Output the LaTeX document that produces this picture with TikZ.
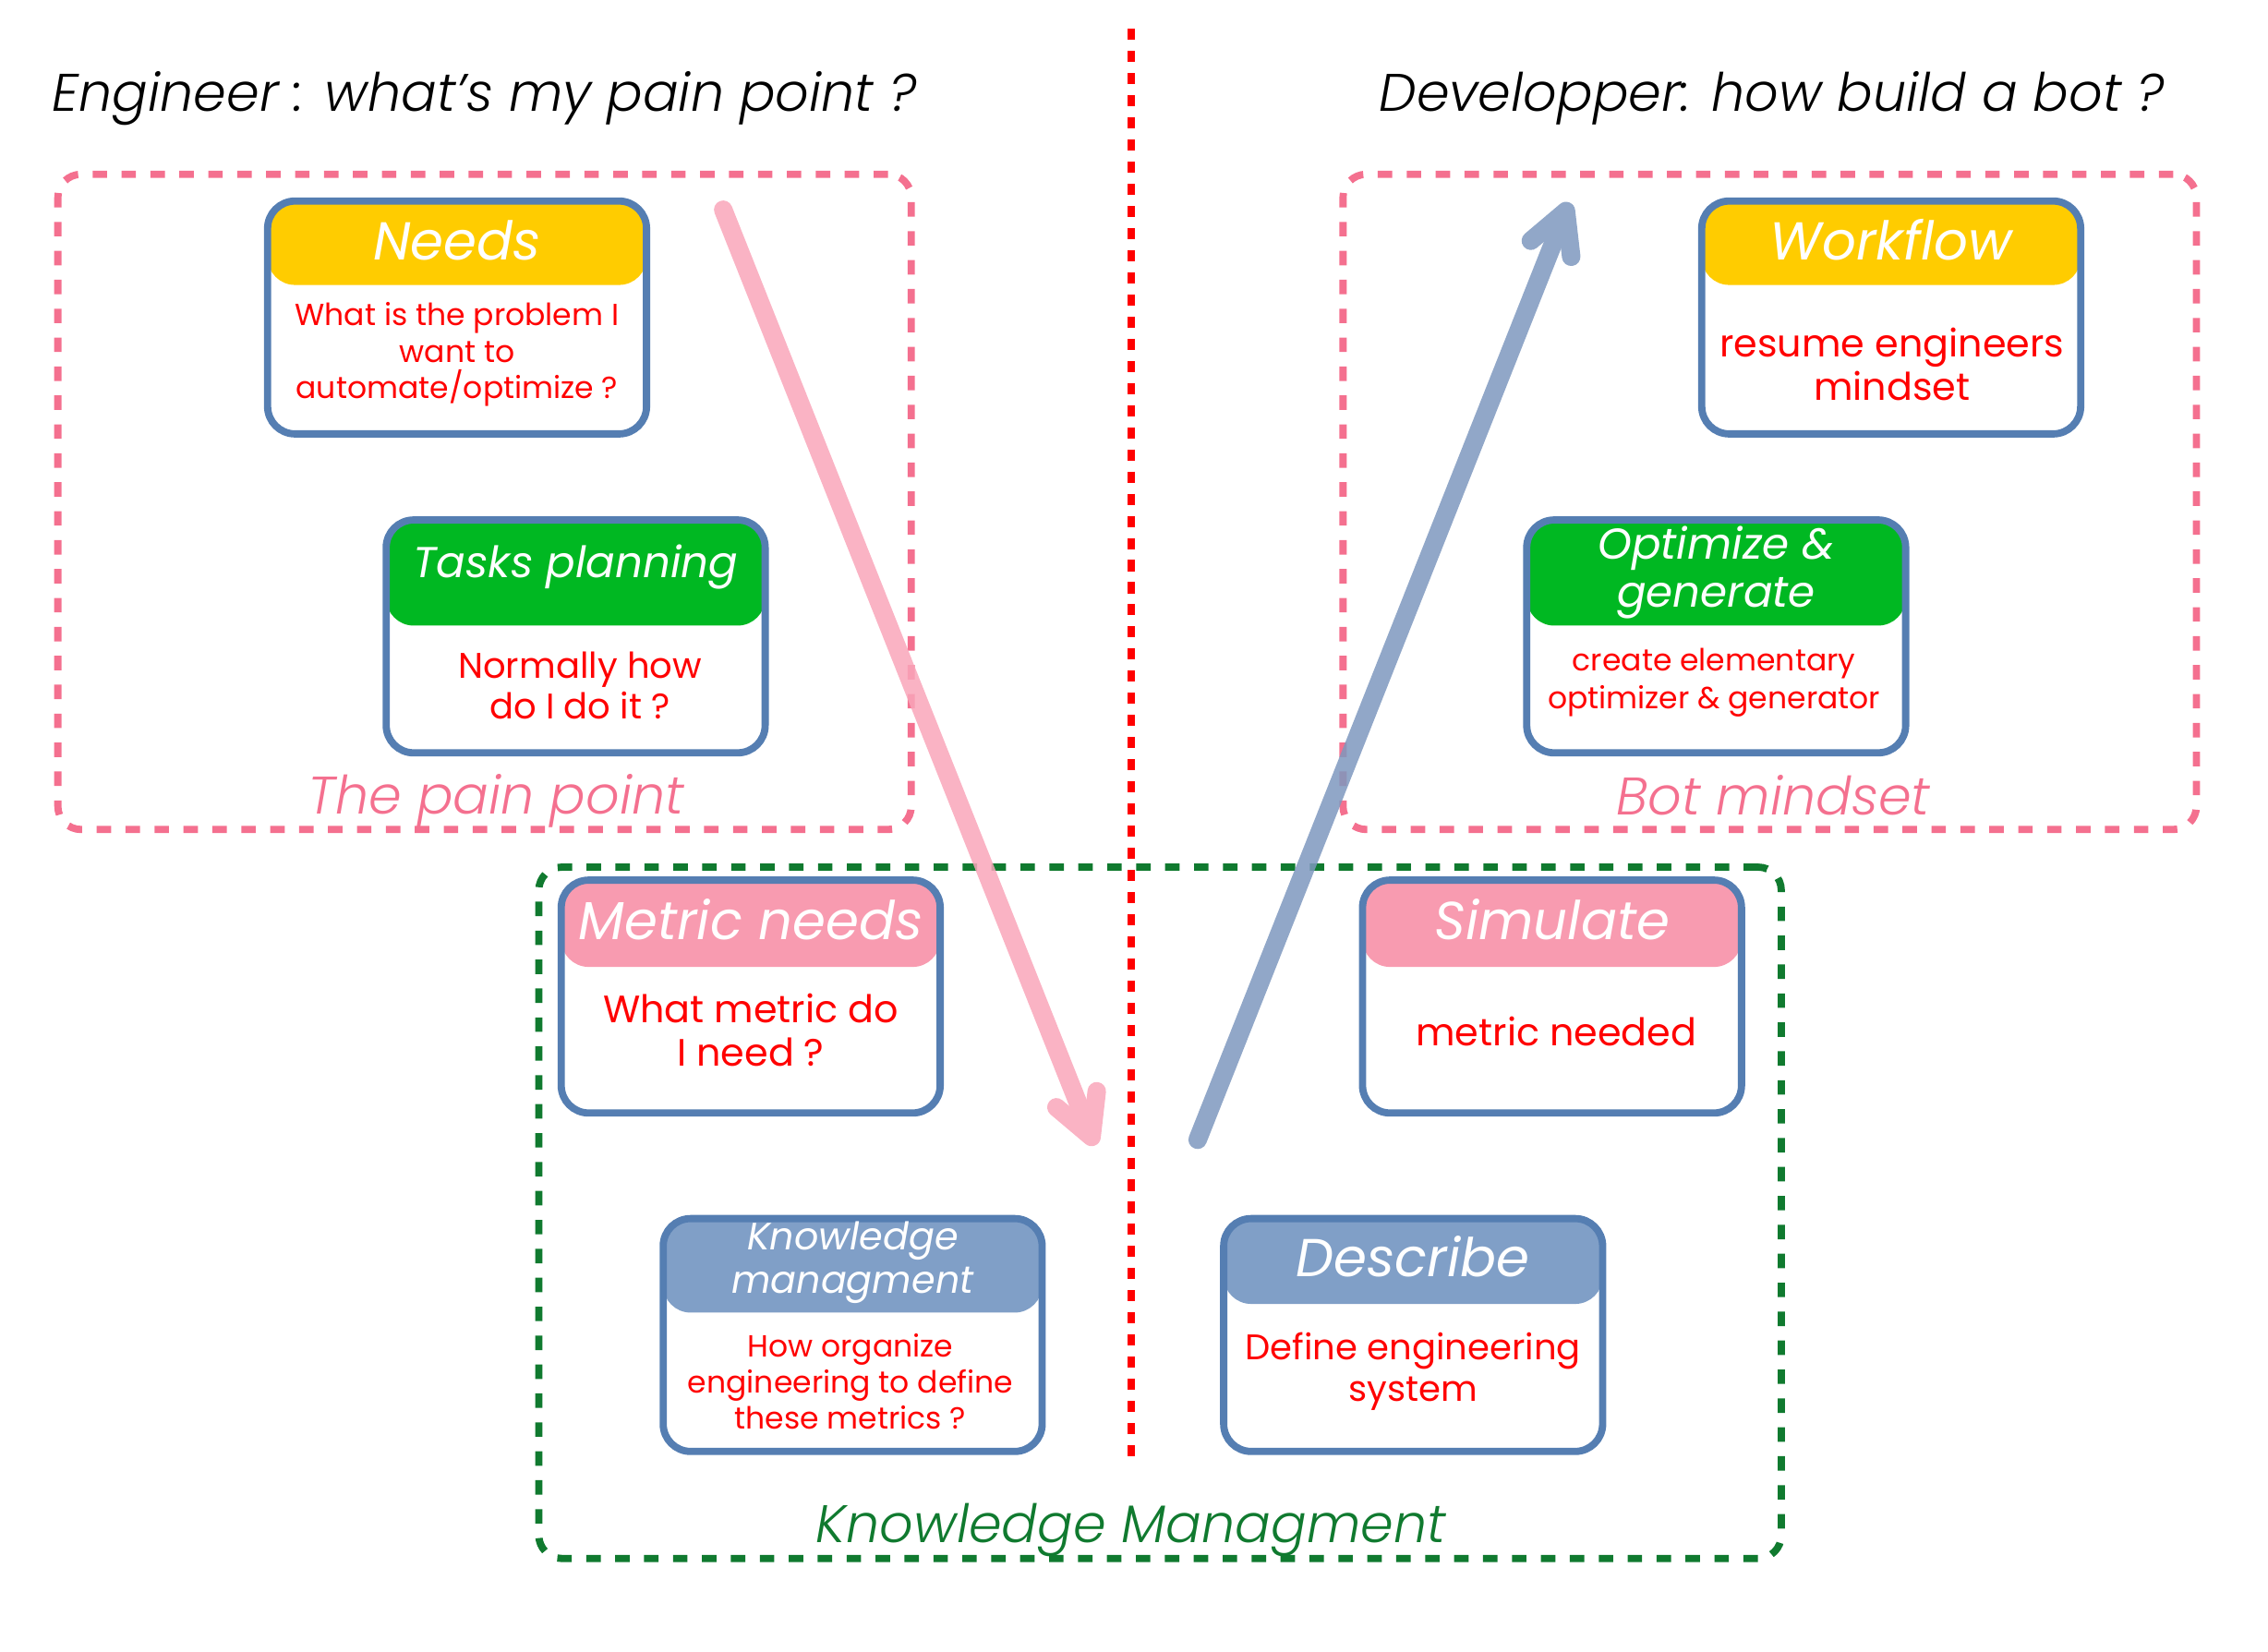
\documentclass[tikz,border=0pt]{standalone}
\usepackage{fontspec}
\setmainfont{Poppins}
\newfontfamily\lightfont{Poppins Light}[ItalicFont={Poppins Light Italic}]
\usetikzlibrary{arrows.meta}
\definecolor{painpink}{HTML}{F4708F}
\definecolor{kmgreen}{HTML}{107A2F}
\definecolor{cardblue}{HTML}{557EB2}
\definecolor{hdyellow}{HTML}{FFCC00}
\definecolor{hdgreen}{HTML}{00B822}
\definecolor{hdpink}{HTML}{F89BB0}
\definecolor{hdblue}{HTML}{809FC7}
\definecolor{arrowpink}{HTML}{F9A6BA}
\definecolor{arrowblue}{HTML}{7E98BE}
\definecolor{txtred}{HTML}{FF0000}
\tikzset{
  grpbox/.style={line width=0.5mm, rounded corners=1.6mm, dash pattern=on 1mm off 1mm, inner sep=0},
  card/.style 2 args={draw=cardblue, line width=0.5mm, rounded corners=1.9mm, fill=white,
    minimum width=26.2mm, minimum height=16.1mm, inner sep=0,
    path picture={\fill[#1] (path picture bounding box.north west) rectangle
      ([yshift=-#2]path picture bounding box.north east);}},
  cardtitle/.style={text=white, align=center, inner sep=0},
  cardtext/.style={text=txtred, align=center, inner sep=0},
  heading/.style={font=\lightfont\itshape\fontsize{10.4}{12}\selectfont, inner sep=0},
  flow/.style={line width=1.28mm, line cap=round, -{Straight Barb[length=2.8mm, width=3.0mm, round]}}
}
\begin{document}
\begin{tikzpicture}[x=0.1mm, y=-0.1mm]
\useasboundingbox (0,0) rectangle (1568,1142);

\node[heading] (engineer) at (335,68) {Engineer : what’s my pain point ?};
\node[heading] (developper) at (1225,68) {Developper: how build a bot ?};

\node[grpbox, draw=painpink, minimum width=59mm, minimum height=45.3mm] (pain) at (335,347) {};
\node[grpbox, draw=painpink, minimum width=59mm, minimum height=45.3mm] (bot) at (1223.5,347) {};
\node[grpbox, draw=kmgreen, minimum width=85.9mm, minimum height=47.8mm] (km) at (802,838.5) {};
\node[heading, text=painpink] (painlabel) at (343,554) {The pain point};
\node[heading, text=painpink] (botlabel) at (1226,550) {Bot mindset};
\node[heading, text=kmgreen] (kmlabel) at (782,1058) {Knowledge Managment};

\coordinate (top) at (782,20);
\coordinate (bottom) at (782,1008);
\draw[txtred, line width=0.5mm, dash pattern=on 0.77mm off 0.76mm] (top) -- (bottom);

% engineer side
\node[card={hdyellow}{5.8mm}] (needs) at (316,219.5) {};
\node[cardtitle, font=\itshape\fontsize{10.5}{12}\selectfont] (needs title) at (316,166) {Needs};
\node[cardtext, font=\fontsize{6}{7.1}\selectfont] (needs text) at (316,245) {What is the problem I\\want to\\automate/optimize ?};

\node[card={hdgreen}{7.3mm}] (tasks) at (398,440) {};
\node[cardtitle, font=\itshape\fontsize{8.5}{10}\selectfont] (tasks title) at (398,392) {Tasks planning};
\node[cardtext, font=\fontsize{7}{8}\selectfont] (tasks text) at (401,474) {Normally how\\do I do it ?};

\node[card={hdpink}{6mm}] (metric) at (519,689) {};
\node[cardtitle, font=\itshape\fontsize{10.5}{12}\selectfont] (metric title) at (519,636) {Metric needs};
\node[cardtext, font=\fontsize{7.5}{8.5}\selectfont] (metric text) at (519,712) {What metric do\\I need ?};

\node[card={hdblue}{6.5mm}] (knowledge) at (589.5,923) {};
\node[cardtitle, font=\itshape\fontsize{7.5}{8.5}\selectfont] (knowledge title) at (589.5,873) {Knowledge\\managment};
\node[cardtext, font=\fontsize{6}{7.1}\selectfont] (knowledge text) at (588,955) {How organize\\engineering to define\\these metrics ?};

% developper side
\node[card={hdyellow}{5.8mm}] (workflow) at (1307.5,219.5) {};
\node[cardtitle, font=\itshape\fontsize{10.5}{12}\selectfont] (workflow title) at (1307.5,166) {Workflow};
\node[cardtext, font=\fontsize{7.5}{8.5}\selectfont] (workflow text) at (1308,252) {resume engineers\\mindset};

\node[card={hdgreen}{7.3mm}] (optimize) at (1186.5,440) {};
\node[cardtitle, font=\itshape\fontsize{8.5}{9.4}\selectfont] (optimize title) at (1186.5,396) {Optimize \&\\generate};
\node[cardtext, font=\fontsize{6}{7.4}\selectfont] (optimize text) at (1185,472) {create elementary\\optimizer \& generator};

\node[card={hdpink}{6mm}] (simulate) at (1073,689) {};
\node[cardtitle, font=\itshape\fontsize{10.5}{12}\selectfont] (simulate title) at (1073,636) {Simulate};
\node[cardtext, font=\fontsize{7.5}{8.5}\selectfont] (simulate text) at (1076,713) {metric needed};

\node[card={hdblue}{5.9mm}] (describe) at (977,923) {};
\node[cardtitle, font=\itshape\fontsize{10.5}{12}\selectfont] (describe title) at (977,869) {Describe};
\node[cardtext, font=\fontsize{7}{8.2}\selectfont] (describe text) at (977,948) {Define engineering\\system};

\coordinate (painstart) at (500,145);
\coordinate (painend) at (757,792);
\coordinate (botstart) at (828,788);
\coordinate (botend) at (1085,140);
\begin{scope}[transparency group, opacity=0.85]
  \draw[flow, arrowpink] (painstart) -- (painend);
\end{scope}
\begin{scope}[transparency group, opacity=0.85]
  \draw[flow, arrowblue] (botstart) -- (botend);
\end{scope}
\end{tikzpicture}
\end{document}
